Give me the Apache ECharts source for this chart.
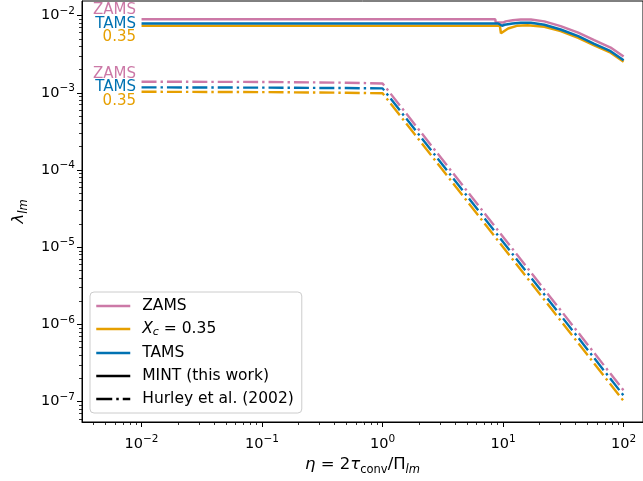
<!DOCTYPE html>
<html>
<head>
<meta charset="utf-8">
<script src="https://cdn.jsdelivr.net/npm/echarts@6/dist/echarts.min.js"></script>
<style>
html,body{margin:0;padding:0;background:#fff;}
#c{width:643px;height:481px;}
</style>
</head>
<body>
<div id="c"></div>
<script>
// ---- Data ----
// MINT (this work), solid lines
const etaZamsMint = [0.01, 8.6, 8.7, 10.0, 10.5, 12, 14, 17, 22, 30, 42, 57, 78, 100];
const lamZamsMint = [8.93e-3, 8.93e-3, 8.1e-3, 8.1e-3, 8.4e-3, 8.7e-3, 8.88e-3, 8.9e-3, 8.4e-3, 7.3e-3, 6.0e-3, 4.8e-3, 3.85e-3, 2.95e-3];
const etaXcMint = [0.01, 9.4, 9.6, 11, 13, 16, 22, 30, 42, 57, 78, 100];
const lamXcMint = [7.35e-3, 7.35e-3, 5.9e-3, 6.8e-3, 7.35e-3, 7.5e-3, 7.15e-3, 6.3e-3, 5.15e-3, 4.1e-3, 3.3e-3, 2.52e-3];
const etaTamsMint = [0.01, 9.1, 9.8, 10.3, 12, 14, 17, 22, 30, 42, 57, 78, 100];
const lamTamsMint = [7.88e-3, 7.88e-3, 7.38e-3, 7.6e-3, 7.9e-3, 8.05e-3, 8.05e-3, 7.6e-3, 6.6e-3, 5.4e-3, 4.3e-3, 3.45e-3, 2.64e-3];
// Hurley et al. (2002), dash-dot lines
const etaHurley = [0.01, 0.1, 0.5, 1, 100];
const lamZamsHurley = [1.39e-3, 1.38e-3, 1.35e-3, 1.32e-3, 1.40e-7];
const lamXcHurley = [1.03e-3, 1.02e-3, 1.0e-3, 0.985e-3, 1.02e-7];
const lamTamsHurley = [1.175e-3, 1.165e-3, 1.15e-3, 1.14e-3, 1.20e-7];
// Axis ticks
const xMajorTicks = [0.01, 0.1, 1, 10, 100];
const yMajorTicks = [1e-7, 1e-6, 1e-5, 1e-4, 1e-3, 1e-2];
const xMin = 3.206e-3, xMax = 144.8;
const yMin = 5.46e-8, yMax = 1.542e-2;

const PINK = '#CC79A7', ORANGE = '#E69F00', BLUE = '#0072B2';
const FONT = 'DejaVu Sans';

function minorTicks(lo, hi) {
  const out = [];
  for (let e = Math.floor(Math.log10(lo)) - 1; e <= Math.ceil(Math.log10(hi)); e++) {
    for (let m = 2; m <= 9; m++) {
      const v = m * Math.pow(10, e);
      if (v >= lo && v <= hi) out.push(v);
    }
  }
  return out;
}
function pairs(xs, ys) { return xs.map((x, i) => [x, ys[i]]); }
function powLabel(v) {
  const e = Math.round(Math.log10(v));
  return '{b|10}{s|' + (e < 0 ? '\u2212' + (-e) : e) + '}';
}
const tickRich = {
  b: { fontSize: 14.5, fontFamily: FONT, color: '#000', lineHeight: 20 },
  s: { fontSize: 10.5, fontFamily: FONT, color: '#000', lineHeight: 10, verticalAlign: 'top' }
};

const DASHDOT = [15, 4, 2.4, 4];
function solid(name, xs, ys, color) {
  return { name, type: 'line', data: pairs(xs, ys), showSymbol: false, symbol: 'none',
    lineStyle: { color, width: 2.5 }, itemStyle: { color }, z: 3, animation: false };
}
function dash(name, xs, ys, color) {
  return { name, type: 'line', data: pairs(xs, ys), showSymbol: false, symbol: 'none',
    lineStyle: { color, width: 2.4, type: DASHDOT }, itemStyle: { color }, z: 3, animation: false };
}

const chart = echarts.init(document.getElementById('c'), null, { renderer: 'canvas' });
const axisCommon = { axisLine: { show: true, lineStyle: { color: '#000', width: 1 } }, splitLine: { show: false } };

chart.setOption({
  animation: false,
  backgroundColor: '#fff',
  grid: { left: 82, top: 1, bottom: 59, right: -2.5, show: true, borderColor: '#000', borderWidth: 1, containLabel: false },
  xAxis: [
    Object.assign({}, axisCommon, {
      type: 'log', logBase: 10, min: xMin, max: xMax, position: 'bottom',
      axisTick: { show: true, inside: false, length: 5, lineStyle: { color: '#000', width: 1 }, customValues: xMajorTicks },
      axisLabel: { show: true, margin: 12, customValues: xMajorTicks, formatter: powLabel, rich: tickRich },
      name: '{it|\u03b7}{n| = 2}{it|\u03c4}{sub|conv}{n|/\u03a0}{subi|lm}',
      nameLocation: 'middle', nameGap: 30,
      nameTextStyle: { color: '#000', rich: {
        it: { fontSize: 16.5, fontFamily: FONT, fontStyle: 'italic', color: '#000', lineHeight: 22 },
        n: { fontSize: 16.5, fontFamily: FONT, color: '#000', lineHeight: 22 },
        sub: { fontSize: 11.5, fontFamily: FONT, color: '#000', lineHeight: 11, verticalAlign: 'bottom' },
        subi: { fontSize: 11.5, fontFamily: FONT, fontStyle: 'italic', color: '#000', lineHeight: 11, verticalAlign: 'bottom' }
      } }
    }),
    Object.assign({}, axisCommon, {
      type: 'log', logBase: 10, min: xMin, max: xMax, position: 'bottom',
      axisLine: { show: false },
      axisTick: { show: true, inside: false, length: 3, lineStyle: { color: '#000', width: 0.8 }, customValues: minorTicks(xMin, xMax) },
      axisLabel: { show: false }
    })
  ],
  yAxis: [
    Object.assign({}, axisCommon, {
      type: 'log', logBase: 10, min: yMin, max: yMax, position: 'left',
      axisTick: { show: true, inside: false, length: 5, lineStyle: { color: '#000', width: 1 }, customValues: yMajorTicks },
      axisLabel: { show: true, margin: 7, customValues: yMajorTicks, formatter: powLabel, rich: tickRich },
      name: '{it|\u03bb}{sub|lm}', nameLocation: 'middle', nameGap: 52,
      nameTextStyle: { color: '#000', rich: {
        it: { fontSize: 16.5, fontFamily: FONT, fontStyle: 'italic', color: '#000', lineHeight: 22 },
        sub: { fontSize: 11.5, fontFamily: FONT, fontStyle: 'italic', color: '#000', lineHeight: 11, verticalAlign: 'bottom' }
      } }
    }),
    Object.assign({}, axisCommon, {
      type: 'log', logBase: 10, min: yMin, max: yMax, position: 'left',
      axisLine: { show: false },
      axisTick: { show: true, inside: false, length: 3, lineStyle: { color: '#000', width: 0.8 }, customValues: minorTicks(yMin, yMax) },
      axisLabel: { show: false }
    })
  ],
  legend: {
    orient: 'vertical', left: 90, top: 292,
    data: ['ZAMS', 'X_c = 0.35', 'TAMS', 'MINT (this work)', 'Hurley et al. (2002)'],
    itemWidth: 34, itemHeight: 14, itemGap: 7,
    padding: [6, 8, 6, 5],
    backgroundColor: 'rgba(255,255,255,0.8)', borderColor: '#cccccc', borderWidth: 1, borderRadius: 4,
    selectedMode: false,
    itemStyle: { opacity: 0 },
    lineStyle: { width: 2.5 },
    formatter: function (name) {
      if (name === 'X_c = 0.35') return '{it|X}{sub|c}{n| = 0.35}';
      return '{n|' + name + '}';
    },
    textStyle: { color: '#000', fontSize: 15.5, fontFamily: FONT, padding: [0, 0, 0, 7], rich: {
      n: { fontSize: 15.5, fontFamily: FONT, color: '#000', lineHeight: 18 },
      it: { fontSize: 15.5, fontFamily: FONT, fontStyle: 'italic', color: '#000', lineHeight: 18 },
      sub: { fontSize: 11, fontFamily: FONT, fontStyle: 'italic', color: '#000', lineHeight: 9, verticalAlign: 'bottom' }
    } }
  },
  graphic: [
    { type: 'text', x: 136, y: 10.5, style: { text: 'ZAMS', fill: PINK, font: '15px "DejaVu Sans"', align: 'right', verticalAlign: 'middle' } },
    { type: 'text', x: 136, y: 24, style: { text: 'TAMS', fill: BLUE, font: '15px "DejaVu Sans"', align: 'right', verticalAlign: 'middle' } },
    { type: 'text', x: 136, y: 37.5, style: { text: '0.35', fill: ORANGE, font: '15px "DejaVu Sans"', align: 'right', verticalAlign: 'middle' } },
    { type: 'text', x: 136, y: 74, style: { text: 'ZAMS', fill: PINK, font: '15px "DejaVu Sans"', align: 'right', verticalAlign: 'middle' } },
    { type: 'text', x: 136, y: 87.5, style: { text: 'TAMS', fill: BLUE, font: '15px "DejaVu Sans"', align: 'right', verticalAlign: 'middle' } },
    { type: 'text', x: 136, y: 101.5, style: { text: '0.35', fill: ORANGE, font: '15px "DejaVu Sans"', align: 'right', verticalAlign: 'middle' } }
  ],
  series: [
    solid('ZAMS', etaZamsMint, lamZamsMint, PINK),
    solid('X_c = 0.35', etaXcMint, lamXcMint, ORANGE),
    solid('TAMS', etaTamsMint, lamTamsMint, BLUE),
    dash('ZAMS Hurley', etaHurley, lamZamsHurley, PINK),
    dash('Xc Hurley', etaHurley, lamXcHurley, ORANGE),
    dash('TAMS Hurley', etaHurley, lamTamsHurley, BLUE),
    { name: 'MINT (this work)', type: 'line', data: [], symbol: 'none', lineStyle: { color: '#000', width: 2.5 }, itemStyle: { color: '#000' } },
    { name: 'Hurley et al. (2002)', type: 'line', data: [], symbol: 'none', lineStyle: { color: '#000', width: 2.5, type: [16, 4, 2.5, 4] }, itemStyle: { color: '#000' } }
  ]
});
</script>
</body>
</html>
